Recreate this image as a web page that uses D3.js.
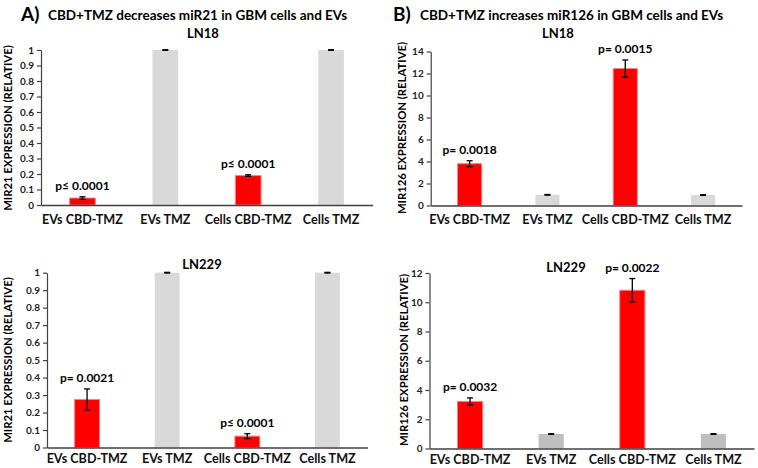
<!DOCTYPE html>
<html>
<head>
<meta charset="utf-8">
<script src="https://cdn.jsdelivr.net/npm/d3@7"></script>
<style>
  body { margin: 0; background: white; }
  text { font-family: Lato, "Liberation Sans", sans-serif; }
</style>
</head>
<body>
<div id="canvas"></div>
<script>
"use strict"

/* data */
let categories = ["EVs CBD-TMZ", "EVs TMZ", "Cells CBD-TMZ", "Cells TMZ"];

let mir21Ticks = [0, 0.1, 0.2, 0.3, 0.4, 0.5, 0.6, 0.7, 0.8, 0.9, 1];
let mir126TicksLN18 = [0, 2, 4, 6, 8, 10, 12, 14];
let mir126TicksLN229 = [0, 2, 4, 6, 8, 10, 12];

let mir21LN18 = [0.045, 1, 0.19, 1];
let mir21LN18Err = [0.008, 0.002, 0.005, 0.002];
let mir21LN18P = ["p\u2264 0.0001", null, "p\u2264 0.0001", null];

let mir126LN18 = [3.8, 0.97, 12.45, 0.95];
let mir126LN18Err = [0.27, 0.03, 0.78, 0.03];
let mir126LN18P = ["p= 0.0018", null, "p= 0.0015", null];

let mir21LN229 = [0.275, 1, 0.065, 1];
let mir21LN229Err = [0.06, 0.002, 0.014, 0.002];
let mir21LN229P = ["p= 0.0021", null, "p\u2264 0.0001", null];

let mir126LN229 = [3.22, 0.99, 10.82, 0.99];
let mir126LN229Err = [0.24, 0.02, 0.8, 0.02];
let mir126LN229P = ["p= 0.0032", null, "p= 0.0022", null];

/* drawing canvas */
let drawing = d3.select("#canvas")
    .append("svg")
    .attr("width", 758)
    .attr("height", 468);

/* panel headers */
drawing.append("text").attr("x", 21).attr("y", 21)
  .attr("font-family", "Liberation Sans").attr("font-weight", "bold").attr("font-size", 19)
  .text("A)");
drawing.append("text").attr("x", 48).attr("y", 20)
  .attr("font-weight", "bold").attr("font-size", 13.5)
  .text("CBD+TMZ decreases miR21 in GBM cells and EVs");
drawing.append("text").attr("x", 393).attr("y", 21)
  .attr("font-family", "Liberation Sans").attr("font-weight", "bold").attr("font-size", 19)
  .text("B)");
drawing.append("text").attr("x", 420).attr("y", 20)
  .attr("font-weight", "bold").attr("font-size", 13.5)
  .text("CBD+TMZ increases miR126 in GBM cells and EVs");

function drawPanel(p) {
  let g = drawing.append("g");

  let x = d3.scaleBand().domain(categories).range([p.left, p.right]);
  let y = d3.scaleLinear().domain([0, p.max]).range([p.bottom, p.top]);
  let barW = x.bandwidth() * 0.31;

  /* cell line title */
  g.append("text").attr("x", p.titleX).attr("y", p.titleY)
    .attr("text-anchor", "middle").attr("font-weight", "bold").attr("font-size", 13)
    .text(p.title);

  /* bars */
  g.selectAll(".bar").data(p.values).enter().append("rect")
    .attr("x", (d, i) => x(categories[i]) + x.bandwidth() / 2 - barW / 2)
    .attr("y", d => y(d))
    .attr("width", barW)
    .attr("height", d => p.bottom - y(d))
    .attr("fill", (d, i) => i % 2 == 0 ? "#ff0000" : p.gray)
    .attr("stroke", (d, i) => i % 2 == 0 ? "#ff8080" : "none")
    .attr("stroke-width", 1);

  /* error bars */
  p.values.forEach(function (v, i) {
    let cx = x(categories[i]) + x.bandwidth() / 2;
    let e = p.errors[i];
    g.append("line").attr("x1", cx).attr("x2", cx)
      .attr("y1", y(v + e)).attr("y2", y(v - e))
      .attr("stroke", "black").attr("stroke-width", 1.3);
    [v + e, v - e].forEach(function (c) {
      g.append("line").attr("x1", cx - 3).attr("x2", cx + 3)
        .attr("y1", y(c)).attr("y2", y(c))
        .attr("stroke", "black").attr("stroke-width", 1.3);
    });
    if (p.pLabels[i]) {
      g.append("text").attr("x", cx).attr("y", y(v + e) - 7)
        .attr("text-anchor", "middle").attr("font-weight", "bold").attr("font-size", 12)
        .text(p.pLabels[i]);
    }
  });

  /* y axis */
  let yAxis = g.append("g")
    .attr("transform", "translate(" + p.left + ",0)")
    .call(d3.axisLeft(y).tickValues(p.ticks).tickSize(4).tickSizeOuter(0).tickFormat(d3.format("")));
  yAxis.selectAll("text")
    .attr("font-family", "Liberation Sans").attr("font-weight", "bold").attr("font-size", 10)
    .attr("fill", "#222");
  yAxis.selectAll("line, path").attr("stroke", "#404040").attr("stroke-width", 1.2);

  /* x axis */
  let xAxis = g.append("g")
    .attr("transform", "translate(0," + p.bottom + ")")
    .call(d3.axisBottom(x).tickSize(0).tickPadding(p.catPad));
  xAxis.select("path").attr("stroke", "#404040").attr("stroke-width", 1.5);
  xAxis.selectAll("text")
    .attr("font-family", "Lato").attr("font-weight", "bold").attr("font-size", 12.6)
    .attr("fill", "#111");

  /* y axis label */
  g.append("text")
    .attr("transform", "translate(" + p.labelX + "," + p.labelY + ") rotate(-90)")
    .attr("text-anchor", "middle").attr("dy", "0.35em")
    .attr("font-family", "Liberation Sans").attr("font-weight", "bold").attr("font-size", 11.3)
    .text(p.yLabel);
}

drawPanel({
  title: "LN18", titleX: 203, titleY: 38,
  left: 41, right: 372.5, top: 50, bottom: 205, max: 1, catPad: 10,
  ticks: mir21Ticks, values: mir21LN18, errors: mir21LN18Err, pLabels: mir21LN18P,
  gray: "#d9d9d9", yLabel: "MIR21 EXPRESSION (RELATIVE)", labelX: 8, labelY: 128
});

drawPanel({
  title: "LN18", titleX: 558, titleY: 38,
  left: 430.7, right: 742, top: 51.5, bottom: 205.5, max: 14, catPad: 10,
  ticks: mir126TicksLN18, values: mir126LN18, errors: mir126LN18Err, pLabels: mir126LN18P,
  gray: "#d9d9d9", yLabel: "MIR126  EXPRESSION (RELATIVE)", labelX: 402, labelY: 128
});

drawPanel({
  title: "LN229", titleX: 202, titleY: 269,
  left: 47, right: 367.5, top: 272.7, bottom: 447.5, max: 1, catPad: 7,
  ticks: mir21Ticks, values: mir21LN229, errors: mir21LN229Err, pLabels: mir21LN229P,
  gray: "#d9d9d9", yLabel: "MIR21 EXPRESSION (RELATIVE)", labelX: 8, labelY: 360
});

drawPanel({
  title: "LN229", titleX: 566, titleY: 272,
  left: 429.5, right: 754, top: 273, bottom: 448.5, max: 12, catPad: 7,
  ticks: mir126TicksLN229, values: mir126LN229, errors: mir126LN229Err, pLabels: mir126LN229P,
  gray: "#bfbfbf", yLabel: "MIR126  EXPRESSION (RELATIVE)", labelX: 404, labelY: 360
});
</script>
</body>
</html>
